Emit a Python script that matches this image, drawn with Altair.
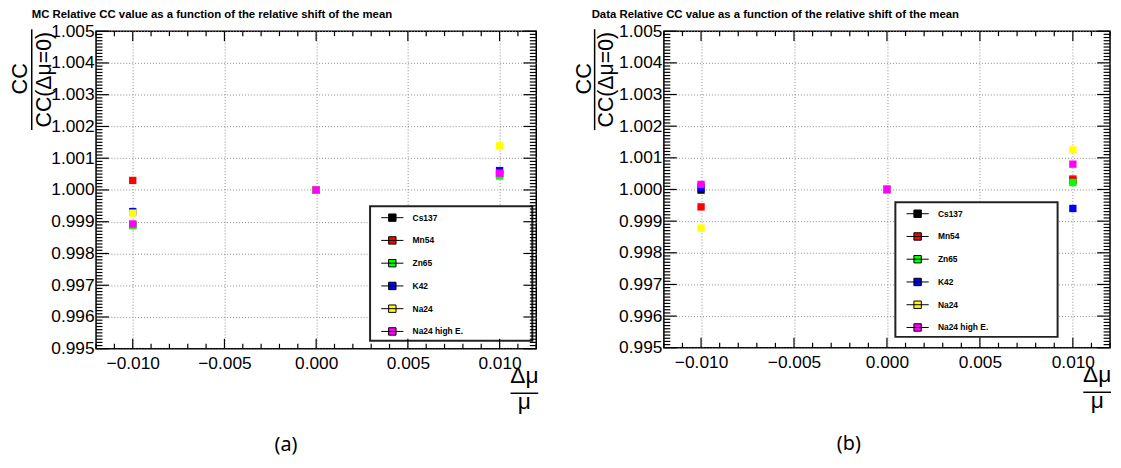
import altair as alt
import pandas as pd
import numpy as np

# ---------------- data ----------------
series = ["Cs137", "Mn54", "Zn65", "K42", "Na24", "Na24 high E."]
colors = ["#000000", "#ff0000", "#00ff00", "#0000ff", "#ffff00", "#ff00ff"]
shifts = [-0.010, 0.000, 0.010]

mc_cs137 = [0.99890, 1.00000, 1.00050]
mc_mn54 = [1.00030, 1.00000, 1.00050]
mc_zn65 = [0.99888, 1.00000, 1.00044]
mc_k42 = [0.99932, 1.00000, 1.00061]
mc_na24 = [0.99927, 1.00000, 1.00139]
mc_na24h = [0.99893, 1.00000, 1.00053]

da_cs137 = [0.99998, 1.00000, 1.00028]
da_mn54 = [0.99945, 1.00000, 1.00033]
da_zn65 = [1.00010, 1.00000, 1.00022]
da_k42 = [1.00005, 1.00000, 0.99940]
da_na24 = [0.99878, 1.00000, 1.00125]
da_na24h = [1.00016, 1.00000, 1.00080]

x_major = [-0.010, -0.005, 0.000, 0.005, 0.010]
y_major = [0.995, 0.996, 0.997, 0.998, 0.999, 1.000, 1.001, 1.002, 1.003, 1.004, 1.005]
x_minor = [round(v, 4) for v in np.arange(-0.012, 0.01201, 0.001) if round(v, 4) not in [round(m, 4) for m in x_major]]
y_minor = [round(v, 5) for v in np.arange(0.995, 1.00501, 0.0001) if round(v, 4) not in [round(m, 4) for m in y_major]]

FONT = "Liberation Sans"


def make_df(vals):
    rows = []
    for i, (name, v) in enumerate(zip(series, vals)):
        for s, c in zip(shifts, v):
            rows.append({"series": name, "shift": s, "cc": c, "idx": i})
    return pd.DataFrame(rows)


def panel(vals, W, H, title, caption, g):
    df = make_df(vals)
    xs = alt.Scale(domain=[-0.012, 0.012], nice=False, zero=False)
    ys = alt.Scale(domain=[0.995, 1.005], nice=False, zero=False)
    xax = alt.Axis(values=x_major, format=".3f", grid=True, gridColor="#8c8c8c", gridDash=[1, 2],
                   gridWidth=1, ticks=False, domain=False, labelFont=FONT, labelFontSize=17.5,
                   labelColor="black", labelPadding=6, labelOverlap=False, labelFlush=False, title=None)
    yax = alt.Axis(values=y_major, format=".3f", grid=True, gridColor="#8c8c8c", gridDash=[1, 2],
                   gridWidth=1, ticks=False, domain=False, labelFont=FONT, labelFontSize=17.5,
                   labelColor="black", labelPadding=2, labelOverlap=False, labelFlush=False, title=None)

    one = pd.DataFrame({"t": [title]})

    # legend frame (white box with dark border), drawn under the legend entries
    lbox = alt.Chart(one).mark_rect(fill="white", stroke="#222222", strokeWidth=2).encode(
        x=alt.value(g["lx"]), x2=alt.value(g["lx"] + 164),
        y=alt.value(g["ly"]), y2=alt.value(g["ly"] + 136))

    pts = alt.Chart(df).mark_point(shape="square", filled=True, size=55, opacity=1, strokeWidth=0).encode(
        x=alt.X("shift:Q", scale=xs, axis=xax),
        y=alt.Y("cc:Q", scale=ys, axis=yax),
        color=alt.Color("series:N", scale=alt.Scale(domain=series, range=colors),
                        legend=alt.Legend(title=None, orient="none", legendX=g["lx"], legendY=g["ly"],
                                          symbolType="M-3,0H3M-1,-1H1V1H-1Z", symbolSize=56,
                                          symbolStrokeColor="black", symbolStrokeWidth=1,
                                          symbolOffset=11, labelOffset=16,
                                          labelFont=FONT, labelFontSize=8.5, labelFontWeight="bold",
                                          labelColor="black", rowPadding=10, padding=7)),
        order=alt.Order("idx:Q"),
    )

    def rules(vals_, orient, length):
        d = pd.DataFrame({"v": vals_})
        c = alt.Chart(d).mark_rule(color="black", strokeWidth=1.2)
        if orient == "bottom":
            return c.encode(x=alt.X("v:Q", scale=xs, axis=xax), y=alt.value(H), y2=alt.value(H - length))
        if orient == "top":
            return c.encode(x=alt.X("v:Q", scale=xs, axis=xax), y=alt.value(0), y2=alt.value(length))
        if orient == "left":
            return c.encode(y=alt.Y("v:Q", scale=ys, axis=yax), x=alt.value(0), x2=alt.value(length))
        return c.encode(y=alt.Y("v:Q", scale=ys, axis=yax), x=alt.value(W), x2=alt.value(W - length))

    tick_layers = [
        rules(x_major, "bottom", 10), rules(x_minor, "bottom", 5),
        rules(x_major, "top", 10), rules(x_minor, "top", 5),
        rules(y_major, "left", 13), rules(y_minor, "left", 6.5),
        rules(y_major, "right", 13), rules(y_minor, "right", 6.5),
    ]

    title_t = alt.Chart(one).mark_text(font=FONT, fontSize=11.5, fontWeight="bold", align="left",
                                       baseline="middle", color="black").encode(
        text="t:N", x=alt.value(g["tx"]), y=alt.value(-16))

    def txt(s, x, y, size, angle=0, font=FONT):
        kw = dict(font=font, fontSize=size, align="center", baseline="middle", color="black")
        if angle:
            kw["angle"] = angle
        return alt.Chart(pd.DataFrame({"t": [s]})).mark_text(**kw).encode(
            text="t:N", x=alt.value(x), y=alt.value(y))

    ytop = txt("CC", g["ycc"], 48, 22, 270)
    ybot = txt("CC(Δμ=0)", g["ycc2"], 49, 21.5, 270)
    ybar = alt.Chart(one).mark_rule(color="black", strokeWidth=1.5).encode(
        x=alt.value(g["ybar"]), y=alt.value(-2), y2=alt.value(100))

    xtop = txt("Δμ", g["xt"], H + 28, 23)
    xbot = txt("μ", g["xt"], H + 54, 23)
    xbar = alt.Chart(one).mark_rule(color="black", strokeWidth=1.5).encode(
        x=alt.value(g["xt"] - 14), x2=alt.value(g["xt"] + 14), y=alt.value(H + 45))

    cap = txt(caption, g["cx"], H + 97, 20, font="Noto Sans")

    return alt.layer(lbox, pts, *tick_layers, title_t, ytop, ybot, ybar, xtop, xbot, xbar, cap).properties(
        width=W, height=H)


left = panel([mc_cs137, mc_mn54, mc_zn65, mc_k42, mc_na24, mc_na24h], 445, 321,
             "MC Relative CC value as a function of the relative shift of the mean", "(a)",
             dict(lx=277, ly=177, tx=-65, ycc=-77, ycc2=-52, ybar=-65, xt=433, cx=192))
right = panel([da_cs137, da_mn54, da_zn65, da_k42, da_na24, da_na24h], 451, 320,
              "Data Relative CC value as a function of the relative shift of the mean", "(b)",
              dict(lx=234, ly=173, tx=-73, ycc=-81, ycc2=-57, ybar=-70, xt=438, cx=187))

chart = alt.hconcat(left, right, spacing=32).resolve_scale(color="independent").configure_view(
    stroke="black", strokeWidth=1.5).properties(padding={"top": -2, "left": 0, "right": 0, "bottom": 0})

chart.save("out.html", embed_options={"renderer": "svg", "actions": False})
